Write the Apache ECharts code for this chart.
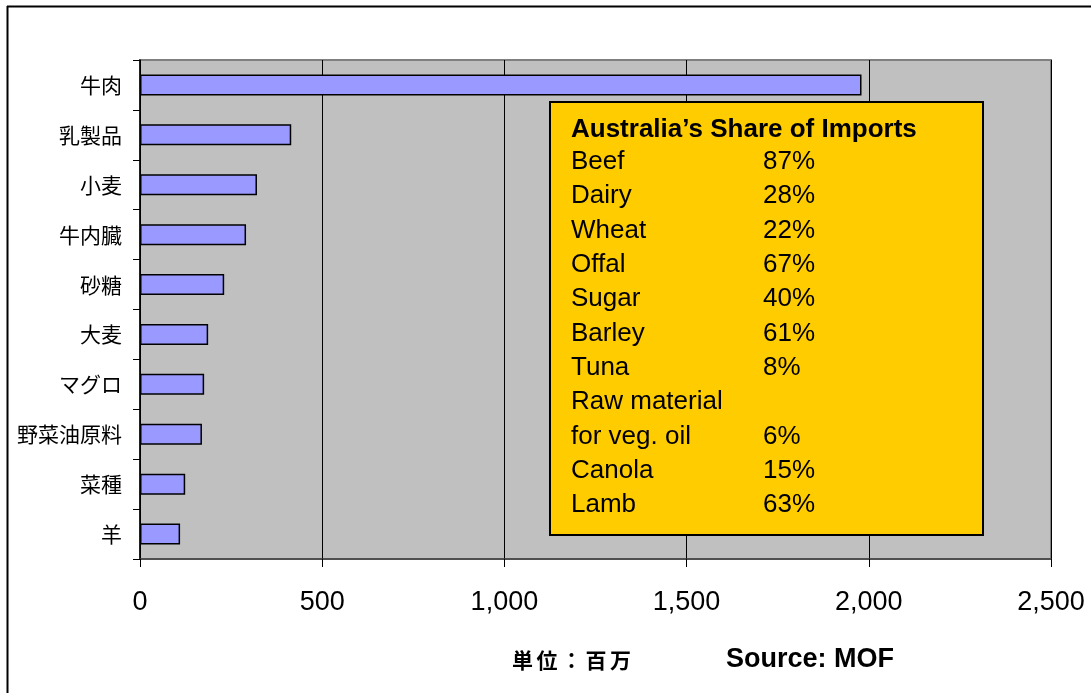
<!DOCTYPE html>
<html lang="ja">
<head>
  <meta charset="utf-8">
  <title>Imports</title>
  <style>
    html, body { margin: 0; padding: 0; background: #fff; }
  </style>
</head>
<body>
  <div id="main" style="width:1091px;height:693px;"></div>
  <script src="https://cdn.jsdelivr.net/npm/echarts@6/dist/echarts.min.js"></script>
  <script>
    // 品目と輸入額（百万）
    var categories = ['牛肉', '乳製品', '小麦', '牛内臓', '砂糖', '大麦', 'マグロ', '野菜油原料', '菜種', '羊'];
    var values = [1980, 415, 321, 291, 231, 187, 176, 170, 124, 110];
    // x軸の目盛
    var xTicks = [0, 500, 1000, 1500, 2000, 2500];
    // 豪州シェア
    var shareNames = ['Beef', 'Dairy', 'Wheat', 'Offal', 'Sugar', 'Barley', 'Tuna', 'Raw material\nfor veg. oil', 'Canola', 'Lamb'];
    var shareValues = [87, 28, 22, 67, 40, 61, 8, 6, 15, 63];

    var latin = '"Liberation Sans", Arial, sans-serif';
    var cjk = '"Noto Sans CJK JP", sans-serif';

    function txt(x, y, s, font) {
      return {
        type: 'text', z: 20, x: x, y: y,
        style: { text: s, font: font, fill: '#000', verticalAlign: 'middle', align: 'left' }
      };
    }

    // 黄色い凡例ボックスの中身
    var boxTexts = [txt(571, 130, 'Australia\u2019s Share of Imports', 'bold 26px ' + latin)];
    var line = 0;
    shareNames.forEach(function (name, i) {
      var parts = name.split('\n');
      parts.forEach(function (p, j) {
        boxTexts.push(txt(571, 162 + 34.3 * (line + j), p, '26px ' + latin));
      });
      line += parts.length - 1;
      boxTexts.push(txt(763, 162 + 34.3 * line, shareValues[i] + '%', '26px ' + latin));
      line += 1;
    });

    // 単位（字間を空けて一文字ずつ）
    var unitTexts = '単位：百万'.split('').map(function (c, i) {
      return txt(512 + 24.5 * i, 660, c, 'bold 21px ' + cjk);
    });

    var myChart = echarts.init(document.getElementById('main'));
    var option = {
      animation: false,
      backgroundColor: '#fff',
      grid: {
        left: 140, right: 40, top: 60, bottom: 134,
        show: true, backgroundColor: '#C0C0C0',
        borderColor: '#808080', borderWidth: 2
      },
      xAxis: {
        type: 'value',
        min: xTicks[0], max: xTicks[xTicks.length - 1], interval: 500,
        axisLine: { show: true, lineStyle: { color: '#404040', width: 1.5 } },
        axisTick: { show: true, length: 8, lineStyle: { color: '#000' } },
        splitLine: { show: true, lineStyle: { color: '#000', width: 1 } },
        axisLabel: {
          margin: 30, fontSize: 27, color: '#000', fontFamily: latin,
          formatter: function (v) { return v.toLocaleString('en-US'); }
        }
      },
      yAxis: {
        type: 'category',
        inverse: true,
        data: categories,
        axisLine: { show: true, lineStyle: { color: '#000', width: 1.5 } },
        axisTick: { show: true, length: 7, lineStyle: { color: '#000' } },
        axisLabel: { margin: 18, fontSize: 21, color: '#000', fontFamily: cjk }
      },
      series: [{
        type: 'bar',
        data: values,
        barWidth: 21,
        itemStyle: { color: '#9999FF', borderColor: '#000', borderWidth: 1.5 }
      }],
      graphic: [
        // 外枠（上と左）
        { type: 'line', shape: { x1: 7, y1: 6.5, x2: 1091, y2: 6.5 }, style: { stroke: '#000', lineWidth: 2 } },
        { type: 'line', shape: { x1: 7.5, y1: 6, x2: 7.5, y2: 693 }, style: { stroke: '#000', lineWidth: 2 } },
        {
          type: 'rect', z: 10,
          shape: { x: 550, y: 102, width: 433, height: 433 },
          style: { fill: '#FFCC00', stroke: '#000', lineWidth: 2 }
        }
      ].concat(boxTexts, unitTexts, [
        txt(726, 660, 'Source: MOF', 'bold 27px ' + latin)
      ])
    };
    myChart.setOption(option);
  </script>
</body>
</html>
